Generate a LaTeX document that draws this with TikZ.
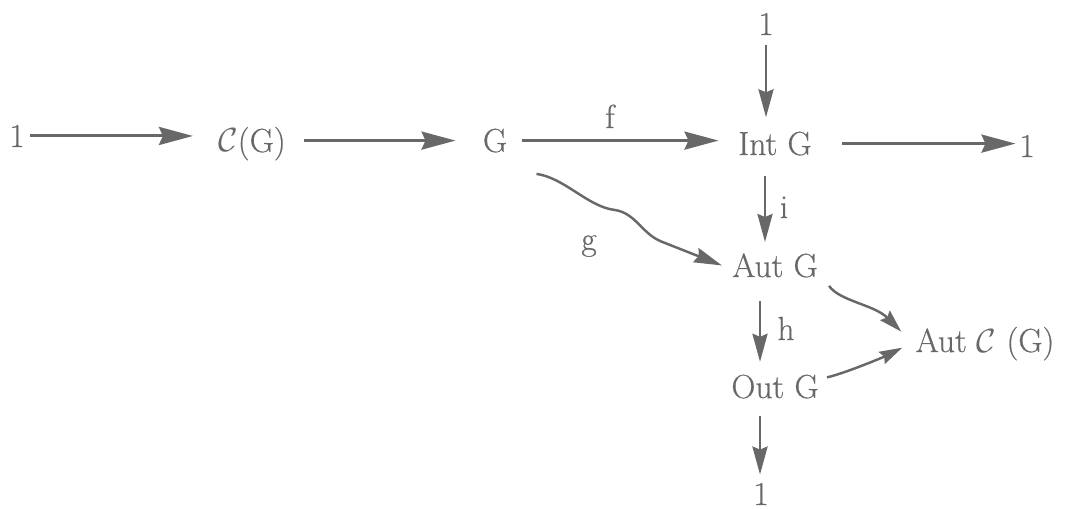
\RequirePackage{fix-cm}
\documentclass[tikz,border=0pt]{standalone}
\usepackage{amsmath,amssymb}
\usepackage{fontspec}
\newfontfamily\groupfont{Latin Modern Roman}[FakeBold=0.5]
\usetikzlibrary{arrows.meta}
\definecolor{ink}{HTML}{686868}

\begin{document}
\begin{tikzpicture}[x=0.2mm,y=-0.2mm,
    obj/.style={inner sep=0pt,anchor=base,text=ink,font=\fontsize{19}{23}\groupfont},
    map/.style={draw=ink,line width=1.7pt,-{Stealth[length=6.8mm,width=3.6mm,inset=0.8mm]}},
    vmap/.style={draw=ink,line width=1.6pt,-{Stealth[length=5.6mm,width=3mm,inset=0.6mm]}},
    cmap/.style={draw=ink,line width=1.4pt,-{Stealth[length=4.6mm,width=2.7mm,inset=0.6mm]}}]
    \useasboundingbox (0,0) rectangle (1070,509);
    % the groups
    \node[obj] (one1) at (17,147) {1};
    \node[obj] (CG) at (252,152) {$\mathcal{C}$(G)};
    \node[obj] (G) at (495,152) {G};
    \node[obj] (IntG) at (775,155) {Int G};
    \node[obj] (one0) at (766,35) {1};
    \node[obj] (one2) at (1027,157) {1};
    \node[obj] (AutG) at (775,277) {Aut G};
    \node[obj] (AutCG) at (985,352) {Aut $\mathcal{C}$ (G)};
    \node[obj] (OutG) at (775,398) {Out G};
    \node[obj] (one3) at (761,505) {1};
    % names of the maps
    \node[obj] (lf) at (610,128) {f};
    \node[obj] (lg) at (589,250) {g};
    \node[obj] (li) at (784,218) {i};
    \node[obj] (lh) at (786,340) {h};
    % top row
    \draw[map,shorten <=0.9mm,shorten >=5mm] (one1) -- (one1 -| CG.west);
    \draw[map,shorten <=3.6mm,shorten >=5.4mm] (G -| CG.east) -- (G.west);
    \draw[map,shorten <=3mm,shorten >=3.9mm] (G) -- (G -| IntG.west);
    \draw[map,shorten <=5.9mm,shorten >=0.7mm] (IntG) -- (IntG -| one2.west);
    % down the column
    \draw[vmap,shorten <=2mm,shorten >=2.8mm] (one0.south) -- (one0.south |- IntG.north);
    \draw[vmap,shorten <=4mm,shorten >=2.2mm] ([xshift=-2mm]IntG.south) -- ([xshift=-2mm]IntG.south |- AutG.north);
    \draw[vmap,shorten <=4.6mm,shorten >=2.5mm] ([xshift=-3mm]AutG.south) -- ([xshift=-3mm]AutG.south |- OutG.north);
    \draw[vmap,shorten <=3.4mm,shorten >=1.6mm] ([xshift=-3mm]OutG.south) -- ([xshift=-3mm]OutG.south |- one3.north);
    % g, the wavy one
    \draw[vmap,line width=1.4pt] ([shift={(29,21)}]G.south east)
        .. controls (565,178) and (588,207) .. (615,210)
        .. controls (635,213) and (642,233) .. (660,241)
        -- ([shift={(-10,0)}]AutG.west);
    % into Aut C(G)
    \draw[cmap] ([shift={(11,8)}]AutG.south east)
        .. controls +(10,15) and +(-27,-27) .. ([shift={(-14,-12)}]AutCG.west);
    \draw[cmap] ([shift={(8,3)}]OutG.north east)
        .. controls +(15,-3) and +(-20,10) .. ([shift={(-13,4)}]AutCG.west);
\end{tikzpicture}
\end{document}
